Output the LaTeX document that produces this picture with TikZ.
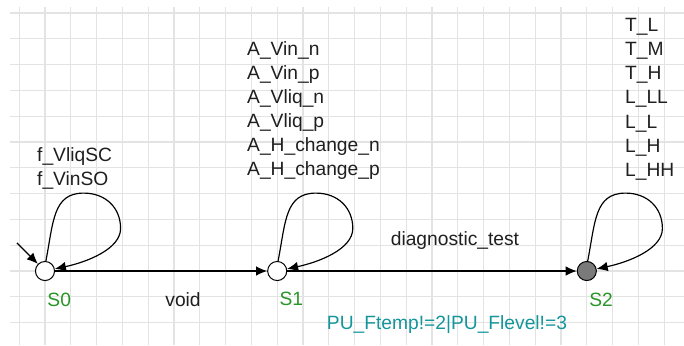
\documentclass[tikz,border=0pt]{standalone}
\usepackage{fontspec}
\setsansfont{Liberation Sans}
\usepackage{tikz}
\usetikzlibrary{arrows.meta,positioning}
\colorlet{uppaalGrid}{black!11}
\colorlet{uppaalText}{black!88}
\colorlet{uppaalGray}{black!52}
\definecolor{uppaalGreen}{RGB}{40,150,40}
\definecolor{uppaalTeal}{RGB}{20,150,155}
\tikzset{
  >=Latex,
  font=\sffamily\fontsize{21.2}{26.6}\selectfont,
  gridline/.style={
    draw=uppaalGrid,
    line width=1.4pt
  },
  location/.style={
    circle,
    draw=black,
    fill=#1,
    line width=1.1pt,
    minimum size=7.4mm,
    inner sep=0pt
  },
  location/.default=white,
  locname/.style={
    text=uppaalGreen,
    inner sep=0pt
  },
  synclist/.style={
    text=uppaalText,
    align=left,
    anchor=north west,
    inner sep=0pt
  },
  lab/.style={
    text=uppaalText,
    inner sep=0pt
  },
  guard/.style={
    text=uppaalTeal,
    inner sep=0pt
  },
  arrow/.style={
    -{Latex[length=4.3mm,width=3.7mm]},
    line width=1.3pt,
    draw=black
  }
}

\begin{document}
\begin{tikzpicture}[x=1cm,y=1cm]
\useasboundingbox (-1.744,-2.868) rectangle (24.767,10.504);

% editor grid behind the automaton
\foreach \gx in {-1,...,24}
  \draw[gridline] (\gx,10.23) -- (\gx,-2.868);
\foreach \gy in {-2,...,10}
  \draw[gridline] (-1.357,\gy) -- (24.767,\gy);

% locations
\node[location] (s0) at (0,0) {};
\node[location] (s1) at (9,0) {};
\node[location=uppaalGray] (s2) at (21,0) {};

\node[locname] (s0_name) at (0.55,-1.12) {S0};
\node[locname] (s1_name) at (9.55,-1.08) {S1};
\node[locname] (s2_name) at (21.55,-1.12) {S2};

% initial marker
\coordinate (init) at (-1.09,1.09);
\draw[arrow] (init) -- (s0);

% transitions between locations
\draw[arrow] (s0) -- (s1);
\draw[arrow] (s1) -- (s2);

\node[lab] (void_lab) at (5.35,-1.12) {void};
\node[lab] (test_lab) at (15.89,1.2) {diagnostic\_test};
\node[guard] (test_guard) at (15.58,-2.09) {PU\_Ftemp!=2|PU\_Flevel!=3};

% self loops, one per location
\foreach \s in {s0,s1,s2}
  \draw[arrow, shift={(\s)}] (\s.85) .. controls (0.33,1.9) and (0.3,3.02) .. (1.5,3.02)
    .. controls (2.35,3.02) and (2.93,2.45) .. (2.93,1.65)
    .. controls (2.93,0.85) and (1.63,0.35) .. (\s.12);

\node[synclist] (s0_sync) at (-0.31,4.79) {f\_VliqSC\\f\_VinSO};
\node[synclist] (s1_sync) at (7.83,8.91)
{A\_Vin\_n\\A\_Vin\_p\\A\_Vliq\_n\\A\_Vliq\_p\\A\_H\_change\_n\\A\_H\_change\_p};
\node[synclist] (s2_sync) at (22.48,9.80)
{T\_L\\T\_M\\T\_H\\L\_LL\\L\_L\\L\_H\\L\_HH};

\end{tikzpicture}
\end{document}
